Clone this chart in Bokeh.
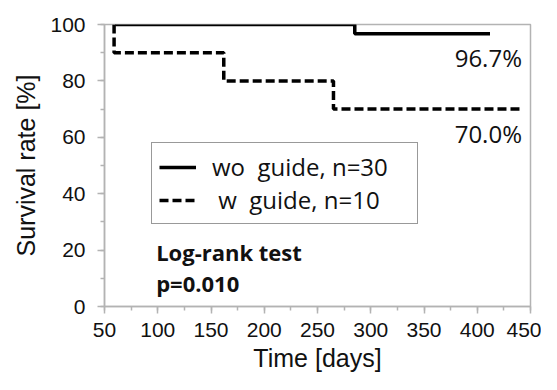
from bokeh.plotting import figure
from bokeh.models import Range1d, Label, Legend, LegendItem, SingleIntervalTicker
from bokeh.embed import file_html
from bokeh.resources import INLINE

# ---- data ----
wo_time = [60, 285, 412]
wo_surv = [100, 96.7, 96.7]
w_time = [59, 59, 162, 265, 443]
w_surv = [100, 90, 80, 70, 70]
wo_label = "wo  guide, n=30"
w_label = " w  guide, n=10"
final_labels = ["96.7%", "70.0%"]
stat_lines = ["Log-rank test", "p=0.010"]

AX = "#b3b3b3"
TXT = "#111111"
SANS = "Liberation Sans"
CAL = "Open Sans"

p = figure(width=541, height=374, output_backend="svg", toolbar_location=None,
           x_range=Range1d(50, 450), y_range=Range1d(0, 100),
           min_border_left=104, min_border_right=11, min_border_top=24, min_border_bottom=64)
p.background_fill_color = "white"
p.border_fill_color = "white"
p.outline_line_color = AX
p.outline_line_width = 1.5
p.xgrid.visible = False
p.ygrid.visible = False

p.xaxis.ticker = SingleIntervalTicker(interval=50, num_minor_ticks=2)
p.yaxis.ticker = SingleIntervalTicker(interval=20, num_minor_ticks=2)

for ax in (p.xaxis, p.yaxis):
    ax.axis_line_color = AX
    ax.axis_line_width = 1.5
    ax.major_tick_line_color = AX
    ax.major_tick_line_width = 1.5
    ax.minor_tick_line_color = AX
    ax.minor_tick_line_width = 1.5
    ax.major_tick_in = 0
    ax.minor_tick_in = 0
    ax.major_tick_out = 7
    ax.minor_tick_out = 4
    ax.major_label_text_font = SANS
    ax.major_label_text_font_size = "21px"
    ax.major_label_text_color = TXT
    ax.axis_label_text_font = SANS
    ax.axis_label_text_font_size = "25px"
    ax.axis_label_text_font_style = "normal"
    ax.axis_label_text_color = TXT

p.xaxis.axis_label = "Time [days]"
p.yaxis.axis_label = "Survival rate [%]"
p.xaxis.major_label_standoff = 9
p.xaxis.axis_label_standoff = 4
p.yaxis.major_label_standoff = 12
p.yaxis.axis_label_standoff = 7

r_wo = p.step(wo_time, wo_surv, mode="after", line_color="black", line_width=3.5)
r_w = p.step(w_time, w_surv, mode="after", line_color="black", line_width=3.5, line_dash="9 4")

legend = Legend(items=[LegendItem(label=wo_label, renderers=[r_wo]),
                       LegendItem(label=w_label, renderers=[r_w])],
                location=(47, 82), orientation="vertical")
legend.border_line_color = "#333333"
legend.border_line_width = 1.5
legend.background_fill_alpha = 1
legend.padding = 7
legend.spacing = 0
legend.glyph_width = 37
legend.glyph_height = 20
legend.label_height = 20
legend.label_width = 198
legend.label_standoff = 16
legend.label_text_font = CAL
legend.label_text_font_size = "24px"
legend.label_text_color = TXT
legend.margin = 0
p.add_layout(legend, "center")

p.add_layout(Label(x=442, y=88.2, text=final_labels[0], text_align="right",
                   text_baseline="alphabetic", text_font=CAL, text_font_size="24px",
                   text_color=TXT))
p.add_layout(Label(x=442, y=61.4, text=final_labels[1], text_align="right",
                   text_baseline="alphabetic", text_font=CAL, text_font_size="24px",
                   text_color=TXT))
p.add_layout(Label(x=98.5, y=19.4, text=stat_lines[0], text_align="left",
                   text_baseline="alphabetic", text_font=CAL, text_font_size="22px",
                   text_font_style="bold", text_color=TXT))
p.add_layout(Label(x=98.5, y=8.2, text=stat_lines[1], text_align="left",
                   text_baseline="alphabetic", text_font=CAL, text_font_size="22px",
                   text_font_style="bold", text_color=TXT))

open("out.html", "w").write(file_html(p, INLINE))
